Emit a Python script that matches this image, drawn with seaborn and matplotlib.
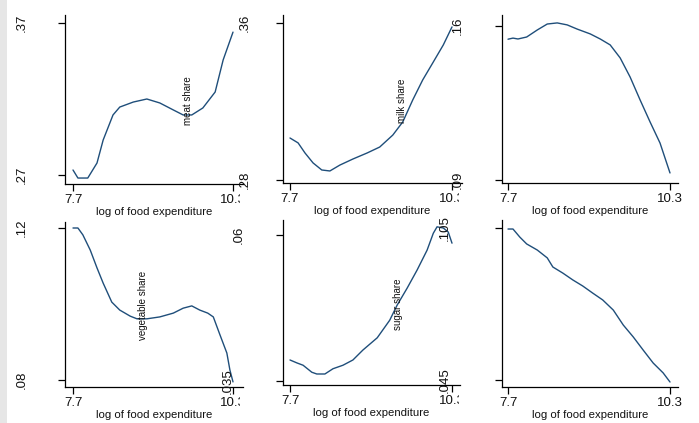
import numpy as np
import pandas as pd
import matplotlib
matplotlib.use("Agg")
import matplotlib.pyplot as plt
import matplotlib.transforms as mtransforms
from matplotlib.patches import Rectangle
import seaborn as sns

# ---------------- data ----------------
x_ticks = [7.7, 10.3]
x_tick_labels = ["7.7", "10.3"]
x_title = "log of food expenditure"

meat_x = [7.70, 7.78, 7.94, 8.09, 8.19, 8.35, 8.46, 8.68, 8.90, 9.11, 9.33, 9.49, 9.63, 9.81, 10.01, 10.14, 10.30]
meat_y = [0.2733, 0.2680, 0.2680, 0.2779, 0.2930, 0.3095, 0.3147, 0.3180, 0.3200, 0.3174, 0.3128, 0.3095, 0.3095, 0.3141, 0.3246, 0.3457, 0.3640]

milk_x = [7.70, 7.83, 7.94, 8.07, 8.21, 8.34, 8.50, 8.71, 8.94, 9.14, 9.35, 9.51, 9.67, 9.83, 9.99, 10.16, 10.30]
milk_y = [0.3014, 0.2989, 0.2938, 0.2887, 0.2851, 0.2846, 0.2876, 0.2907, 0.2938, 0.2968, 0.3029, 0.3096, 0.3208, 0.3310, 0.3396, 0.3488, 0.3580]

third_x = [7.70, 7.78, 7.86, 8.00, 8.17, 8.33, 8.49, 8.65, 8.81, 9.02, 9.18, 9.34, 9.50, 9.66, 9.82, 9.98, 10.14, 10.30]
third_y = [0.1540, 0.1545, 0.1541, 0.1550, 0.1582, 0.1609, 0.1614, 0.1605, 0.1586, 0.1564, 0.1541, 0.1514, 0.1455, 0.1368, 0.1264, 0.1164, 0.1068, 0.0932]

veg_x = [7.70, 7.78, 7.86, 7.98, 8.09, 8.19, 8.33, 8.46, 8.63, 8.74, 8.90, 9.11, 9.33, 9.49, 9.63, 9.76, 9.89, 9.98, 10.09, 10.20, 10.25, 10.30]
veg_y = [0.1200, 0.1200, 0.1182, 0.1142, 0.1095, 0.1055, 0.1005, 0.0984, 0.0968, 0.0961, 0.0961, 0.0966, 0.0976, 0.0989, 0.0995, 0.0984, 0.0976, 0.0966, 0.0918, 0.0871, 0.0826, 0.0795]

sugar_x = [7.70, 7.81, 7.91, 8.05, 8.13, 8.26, 8.39, 8.55, 8.71, 8.87, 9.10, 9.30, 9.42, 9.58, 9.74, 9.90, 10.00, 10.06, 10.16, 10.24, 10.30]
sugar_y = [0.0386, 0.0381, 0.0377, 0.0365, 0.0362, 0.0362, 0.0371, 0.0377, 0.0386, 0.0403, 0.0424, 0.0454, 0.0480, 0.0509, 0.0540, 0.0574, 0.0603, 0.0614, 0.0612, 0.0605, 0.0586]

sixth_x = [7.70, 7.78, 7.89, 8.00, 8.17, 8.33, 8.42, 8.58, 8.74, 8.90, 9.06, 9.22, 9.39, 9.55, 9.71, 9.87, 10.03, 10.19, 10.30]
sixth_y = [0.1046, 0.1046, 0.1014, 0.0987, 0.0963, 0.0932, 0.0896, 0.0872, 0.0845, 0.0821, 0.0793, 0.0766, 0.0726, 0.0667, 0.0620, 0.0568, 0.0517, 0.0478, 0.0442]

y_ticks = [[0.37, 0.27], [0.36, 0.28], [0.16, 0.09], [0.12, 0.08], [0.06, 0.035], [0.105, 0.045]]
y_tick_labels = [[".37", ".27"], [".36", ".28"], [".16", ".09"], [".12", ".08"], [".06", ".035"], [".105", ".045"]]

notes = ["meat share", "milk share", None, "vegetable share", "sugar share", None]
note_pos = [(9.57, 0.3187), (9.50, 0.3203), None, (8.84, 0.0997), (9.43, 0.0482), None]

series = [(meat_x, meat_y), (milk_x, milk_y), (third_x, third_y),
          (veg_x, veg_y), (sugar_x, sugar_y), (sixth_x, sixth_y)]

# ---------------- layout (pixels) ----------------
W, H = 699, 423
# box: left, right, top, bottom ; tick pixel positions for x (7.7,10.3) and y (top,bottom)
boxes = [(65, 243, 15, 184), (283, 462, 15, 183), (502, 678, 15, 183),
         (65, 243, 222, 387), (283, 460, 220, 385), (502, 678, 220, 387)]
xtick_px = [(73, 233), (290, 452), (508, 670), (73, 233), (290, 452), (508, 670)]
ytick_px = [(23, 175), (23, 180), (26, 180), (228, 380), (235, 381), (228, 380)]
ylab_x = [[22, 22], [245, 245], [458, 458], [22, 22], [239, 228], [445, 445]]
clip_x = [240, 459, None, 240, 459, None]

sns.set_style("ticks")
plt.rcParams["font.family"] = ["Liberation Sans", "DejaVu Sans"]

fig = plt.figure(figsize=(W / 100, H / 100), dpi=100, facecolor="white")
fig.patches.append(Rectangle((0, 0), 7 / W, 1, transform=fig.transFigure,
                             facecolor="#e6e6e6", edgecolor="none", zorder=0))

line_color = "#1f4e7a"

for i in range(6):
    l, r, t, b = boxes[i]
    ax = fig.add_axes([l / W, 1 - b / H, (r - l) / W, (b - t) / H])
    ax.set_facecolor("none")
    xs, ys = series[i]
    df = pd.DataFrame({"x": xs, "y": ys})
    sns.lineplot(data=df, x="x", y="y", ax=ax, color=line_color, linewidth=1.0,
                 estimator=None, sort=False)
    x0, x1 = xtick_px[i]
    sx = (x_ticks[1] - x_ticks[0]) / (x1 - x0)
    ax.set_xlim(x_ticks[0] - (x0 - l) * sx, x_ticks[1] + (r - x1) * sx)
    yt, yb = ytick_px[i]
    vt, vb = y_ticks[i]
    sy = (vt - vb) / (yb - yt)
    ax.set_ylim(vb - (b - yb) * sy, vt + (yt - t) * sy)

    ax.set_xticks(x_ticks)
    ax.set_xticklabels(x_tick_labels)
    ax.set_yticks(y_ticks[i])
    ax.set_yticklabels([])
    ax.tick_params(axis="both", direction="out", length=5, width=0.9, color="black",
                   labelsize=9.5, labelcolor="#111111")
    ax.tick_params(axis="x", pad=2)
    for sp in ["top", "right"]:
        ax.spines[sp].set_visible(False)
    for sp in ["left", "bottom"]:
        ax.spines[sp].set_linewidth(0.9)
        ax.spines[sp].set_color("black")
    ax.set_xlabel(x_title, fontsize=8.2, labelpad=1, color="#111111")
    ax.set_ylabel("")

    # y tick labels, rotated, set far left as in the original
    tr = mtransforms.blended_transform_factory(fig.transFigure, ax.transData)
    for k in range(2):
        fig.text(ylab_x[i][k] / W, y_ticks[i][k], y_tick_labels[i][k], transform=tr,
                 rotation=90, ha="center", va="center", fontsize=9.5, color="#111111")

    if notes[i] is not None:
        ax.text(note_pos[i][0], note_pos[i][1], notes[i], rotation=90, ha="center",
                va="center", fontsize=7, color="#111111")

    if clip_x[i] is not None:
        cb = mtransforms.TransformedBbox(
            mtransforms.Bbox.from_extents(0, 0, clip_x[i] / W, 1), fig.transFigure)
        for lbl in ax.get_xticklabels():
            lbl.set_clip_box(cb)
            lbl.set_clip_on(True)

fig.savefig("out.png", dpi=100, facecolor="white")
